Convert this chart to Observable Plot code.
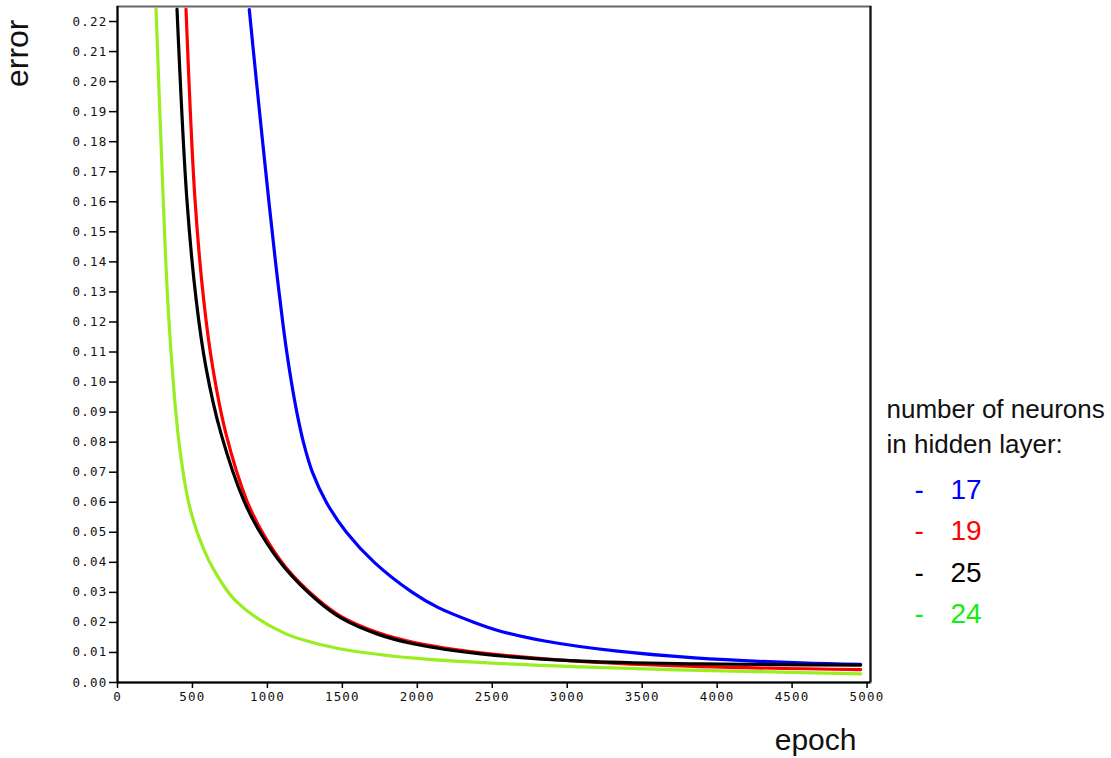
<!DOCTYPE html>
<html><head><meta charset="utf-8">
<script src="https://cdn.jsdelivr.net/npm/d3@7"></script>
<script src="https://cdn.jsdelivr.net/npm/@observablehq/plot@0.6"></script>
<style>
body{margin:0;background:#fff}
g[aria-label="y-axis tick label"] text, g[aria-label="x-axis tick label"] text{letter-spacing:1.2px}
</style>
</head><body><div id="chart"></div>
<script>
// ---- data ----
const series = ["17", "19", "25", "24"];
const lineColors = ["#0000ff", "#ff0000", "#000000", "#99ee22"];
const legendColors = ["#0000ff", "#ff0000", "#000000", "#11ee11"];

const epochs17 = [879, 927, 968, 1010, 1054, 1102, 1129, 1160, 1196, 1240, 1300, 1393, 1527, 1713, 1967, 2137, 2380, 2560, 2850, 3320, 3850, 4557, 4957];
const err17    = [0.224, 0.20, 0.18, 0.16, 0.14, 0.12, 0.11, 0.10, 0.09, 0.08, 0.07, 0.06, 0.05, 0.04, 0.03, 0.025, 0.02, 0.017, 0.0138, 0.0105, 0.0082, 0.0065, 0.0060];

const epochs19 = [457, 517, 575, 635, 723, 863, 972, 1125, 1337, 1490, 1735, 1980, 2423, 3090, 3890, 4957];
const err19    = [0.2241, 0.1607, 0.1273, 0.1049, 0.0829, 0.0605, 0.0495, 0.0382, 0.0276, 0.0220, 0.0166, 0.0133, 0.0099, 0.0070, 0.0053, 0.0043];

const epochs25 = [397, 463, 525, 590, 690, 843, 957, 1115, 1337, 1490, 1735, 1980, 2423, 3090, 3890, 4957];
const err25    = [0.2241, 0.1607, 0.1273, 0.1049, 0.0829, 0.0605, 0.0495, 0.0382, 0.0271, 0.0215, 0.0161, 0.0128, 0.0095, 0.0071, 0.0062, 0.0058];

const epochs24 = [257, 305, 335, 382, 417, 472, 535, 635, 790, 1102, 1456, 1977, 2643, 3090, 3668, 4300, 4957];
const err24    = [0.2241, 0.1607, 0.1273, 0.0939, 0.0772, 0.0605, 0.0495, 0.0382, 0.0271, 0.0167, 0.0115, 0.0081, 0.0061, 0.0052, 0.0043, 0.0036, 0.0029];

const xTicks = [0, 500, 1000, 1500, 2000, 2500, 3000, 3500, 4000, 4500, 5000];
const yTicks = [0, 0.01, 0.02, 0.03, 0.04, 0.05, 0.06, 0.07, 0.08, 0.09, 0.10, 0.11,
                0.12, 0.13, 0.14, 0.15, 0.16, 0.17, 0.18, 0.19, 0.20, 0.21, 0.22];

const xLabel = "epoch";
const yLabel = "error";
const legendTitle = ["number of neurons", "in hidden layer:"];

// ---- build table ----
const epochsBy = {"17": epochs17, "19": epochs19, "25": epochs25, "24": epochs24};
const errBy = {"17": err17, "19": err19, "25": err25, "24": err24};
const drawOrder = ["17", "24", "19", "25"];
const rows = drawOrder.flatMap(s => epochsBy[s].map((e, i) => ({series: s, epoch: e, error: errBy[s][i]})));

const font = "Liberation Sans, Arial, sans-serif";
const legendMarks = [];
legendTitle.forEach((t, i) => {
  legendMarks.push(Plot.text([t], {text: d => d, frameAnchor: "top-right", dx: 16, dy: 411 + i * 35,
    textAnchor: "start", lineAnchor: "bottom", fontSize: 26, fontFamily: font, fill: "#111"}));
});
series.forEach((s, i) => {
  const base = 492 + i * 41.5;
  legendMarks.push(Plot.text(["-"], {text: d => d, frameAnchor: "top-right", dx: 44, dy: base,
    textAnchor: "start", lineAnchor: "bottom", fontSize: 28, fontFamily: font, fill: legendColors[i]}));
  legendMarks.push(Plot.text([s], {text: d => d, frameAnchor: "top-right", dx: 80, dy: base,
    textAnchor: "start", lineAnchor: "bottom", fontSize: 28, fontFamily: font, fill: legendColors[i]}));
});

const chart = Plot.plot({
  width: 1111,
  height: 758,
  marginLeft: 117,
  marginRight: 241,
  marginTop: 6,
  marginBottom: 76,
  style: {fontFamily: "DejaVu Sans Mono, monospace", fontSize: "12.5px", color: "#111", background: "#fff"},
  x: {domain: [0, 5023]},
  y: {domain: [0, 0.225]},
  color: {domain: series, range: lineColors},
  marks: [
    Plot.line(rows, {x: "epoch", y: "error", z: "series", stroke: "series", strokeWidth: 3.2,
      curve: "catmull-rom", clip: true}),
    Plot.frame({stroke: "#666", strokeWidth: 2}),
    Plot.ruleX([5023], {stroke: "#111", strokeWidth: 2}),
    Plot.ruleX([0], {stroke: "#000", strokeWidth: 2}),
    Plot.ruleY([0], {stroke: "#000", strokeWidth: 2}),
    Plot.axisX({ticks: xTicks, tickSize: 6, tickPadding: 4, tickFormat: d => String(d), label: null, stroke: "#000", strokeWidth: 1.5}),
    Plot.axisY({ticks: yTicks, tickSize: 8, tickPadding: 2, tickFormat: d3.format(".2f"), label: null, stroke: "#000", strokeWidth: 1.5}),
    Plot.text([yLabel], {text: d => d, frameAnchor: "top-left", dx: -100, dy: 13, rotate: -90,
      textAnchor: "end", lineAnchor: "middle", fontSize: 32, fontFamily: font, fill: "#111"}),
    Plot.text([xLabel], {text: d => d, frameAnchor: "bottom-right", dx: -14, dy: 67,
      textAnchor: "end", lineAnchor: "bottom", fontSize: 30, fontFamily: font, fill: "#111"}),
    ...legendMarks
  ]
});
document.getElementById("chart").append(chart);
</script>
</body></html>
